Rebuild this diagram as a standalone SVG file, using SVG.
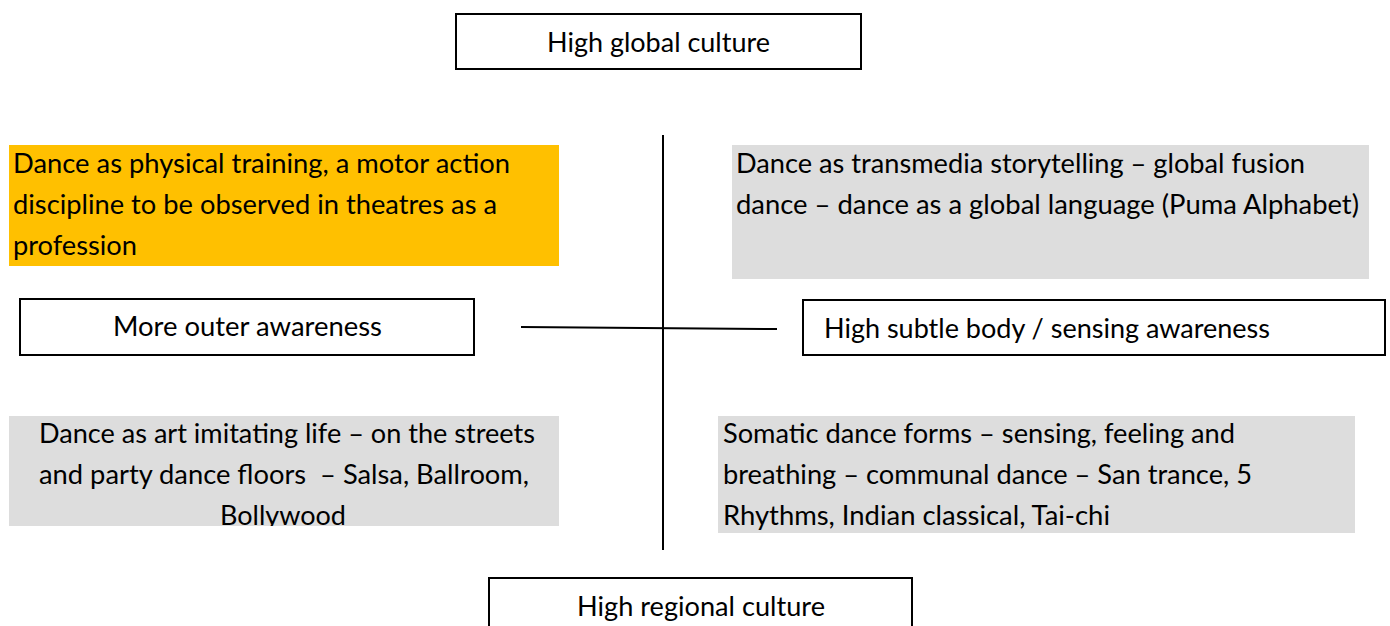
<svg xmlns="http://www.w3.org/2000/svg" width="1390" height="626" viewBox="0 0 1390 626">
<style>
.box{fill:#fff;stroke:#000;stroke-width:2}
.t{font-family:Lato,"Liberation Sans",sans-serif;font-size:26px;fill:#000}
.c{text-anchor:middle}
.ln{stroke:#000;stroke-width:2;fill:none}
</style>
<defs>
<clipPath id="clipBL"><rect x="9" y="416" width="550" height="110"/></clipPath>
</defs>
<rect width="1390" height="626" fill="#fff"/>
<g id="connectors">
<line class="ln" x1="663" y1="135" x2="663" y2="550"/>
<line class="ln" x1="521" y1="327" x2="777" y2="329"/>
</g>
<g id="high-global">
<rect class="box" x="456" y="14" width="405" height="55"/>
<text class="t" x="547" y="52" textLength="223" lengthAdjust="spacingAndGlyphs">High global culture</text>
</g>
<g id="physical-training">
<rect x="9" y="145" width="550" height="121" fill="#FFC000"/>
<text class="t" x="13" y="173" textLength="497" lengthAdjust="spacingAndGlyphs">Dance as physical training, a motor action</text>
<text class="t" x="13" y="214" textLength="484" lengthAdjust="spacingAndGlyphs">discipline to be observed in theatres as a</text>
<text class="t" x="13" y="255" textLength="124" lengthAdjust="spacingAndGlyphs">profession</text>
</g>
<g id="transmedia">
<rect x="732" y="145" width="637" height="134" fill="#DDDDDD"/>
<text class="t" x="736" y="173" textLength="569" lengthAdjust="spacingAndGlyphs">Dance as transmedia storytelling – global fusion</text>
<text class="t" x="736" y="214" textLength="623" lengthAdjust="spacingAndGlyphs">dance – dance as a global language (Puma Alphabet)</text>
</g>
<g id="outer-awareness">
<rect class="box" x="20" y="299" width="454" height="56"/>
<text class="t" x="113" y="336" textLength="269" lengthAdjust="spacingAndGlyphs">More outer awareness</text>
</g>
<g id="subtle-body">
<rect class="box" x="803" y="300" width="582" height="55"/>
<text class="t" x="824" y="338" textLength="446" lengthAdjust="spacingAndGlyphs">High subtle body / sensing awareness</text>
</g>
<g id="art-imitating-life">
<rect x="9" y="416" width="550" height="110" fill="#DDDDDD"/>
<g clip-path="url(#clipBL)">
<text class="t" x="39" y="443" textLength="496" lengthAdjust="spacingAndGlyphs">Dance as art imitating life – on the streets</text>
<text class="t" x="39" y="484" textLength="490" lengthAdjust="spacingAndGlyphs" xml:space="preserve" style="white-space:pre">and party dance floors  – Salsa, Ballroom,</text>
<text class="t" x="220" y="525" textLength="126" lengthAdjust="spacingAndGlyphs">Bollywood</text>
</g>
</g>
<g id="somatic">
<rect x="718" y="416" width="637" height="117" fill="#DDDDDD"/>
<text class="t" x="723" y="443" textLength="512" lengthAdjust="spacingAndGlyphs">Somatic dance forms – sensing, feeling and</text>
<text class="t" x="723" y="484" textLength="529" lengthAdjust="spacingAndGlyphs">breathing – communal dance – San trance, 5</text>
<text class="t" x="723" y="525" textLength="387" lengthAdjust="spacingAndGlyphs">Rhythms, Indian classical, Tai-chi</text>
</g>
<g id="high-regional">
<rect class="box" x="489" y="578" width="423" height="60"/>
<text class="t" x="577" y="616" textLength="248" lengthAdjust="spacingAndGlyphs">High regional culture</text>
</g>
</svg>
